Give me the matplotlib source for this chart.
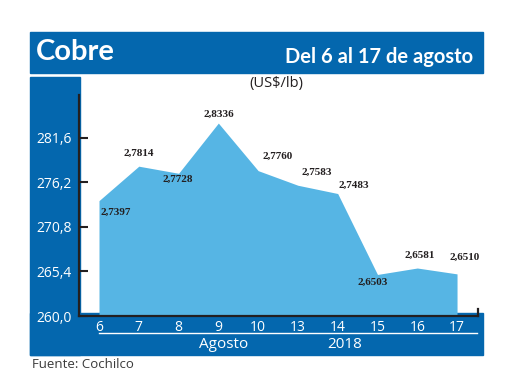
import matplotlib
matplotlib.use("Agg")
import matplotlib.pyplot as plt
from matplotlib.patches import Rectangle
from matplotlib.lines import Line2D

# datos: cobre, US$/lb (eje en centavos)
dias = ["6", "7", "8", "9", "10", "13", "14", "15", "16", "17"]
precios = [2.7397, 2.7814, 2.7728, 2.8336, 2.7760, 2.7583, 2.7483, 2.6503, 2.6581, 2.6510]
yticks = [260.0, 265.4, 270.8, 276.2, 281.6]

azul = "#0467ae"
celeste = "#56b5e4"
negro = "#231f20"

W, H = 520, 390
fig = plt.figure(figsize=(5.2, 3.9), dpi=100)


def fx(px):
    return px / W


def fy(py):
    return 1 - py / H


def rect(x0, y0, x1, y1, color):
    fig.patches.append(Rectangle((fx(x0), fy(y1)), fx(x1) - fx(x0), fy(y0) - fy(y1),
                                 transform=fig.transFigure, color=color, zorder=-5))


# marco azul
rect(30, 32, 483, 73, azul)
rect(30, 77, 80, 355, azul)
rect(30, 313, 483, 355, azul)

fig.text(fx(36), fy(52), "Cobre", color="white", fontsize=21, fontweight="bold",
         family="Lato", va="center", ha="left")
fig.text(fx(473), fy(57), "Del 6 al 17 de agosto", color="white", fontsize=14.5,
         fontweight="bold", family="Lato", va="center", ha="right")
fig.text(fx(276), fy(84), "(US$/lb)", color=negro, fontsize=10.5, family="Open Sans",
         va="center", ha="center")

ax = fig.add_axes([fx(79), fy(316), fx(478) - fx(79), fy(95) - fy(316)])
ax.set_zorder(2)
ax.patch.set_alpha(0)
x = list(range(len(dias)))
vals = [p * 100 for p in precios]
ax.fill_between(x, 260, vals, color=celeste, lw=0, zorder=1)

ax.set_xlim(-0.503, 9.527)
ax.set_ylim(260, 286.76)

ax.set_yticks(yticks)
ax.set_yticklabels([f"{v:.1f}".replace(".", ",") for v in yticks])
ax.tick_params(axis="y", direction="in", length=6.5, width=1.5, color=negro,
               labelcolor="white", labelsize=10, pad=5)
ax.set_xticks(x)
ax.set_xticklabels(dias)
ax.tick_params(axis="x", length=0, labelcolor="white", labelsize=10, pad=3)
for t in ax.get_xticklabels() + ax.get_yticklabels():
    t.set_family("Open Sans")

for s in ["top", "right"]:
    ax.spines[s].set_visible(False)
ax.spines["left"].set_color(negro)
ax.spines["left"].set_linewidth(1.6)
ax.spines["bottom"].set_color(negro)
ax.spines["bottom"].set_linewidth(1.6)
ax.plot([9.527, 9.527], [260, 260.8], color=negro, lw=1.6, clip_on=False)

# etiquetas de valores (desplazamiento en px)
offs = [(1, 12, "left"), (0, -13, "center"), (-1, 6, "center"), (0, -9, "center"),
        (19, -14, "center"), (19, -13, "center"), (16, -8, "center"),
        (-5, 8, "center"), (2, -13, "center"), (8, -17, "center")]
for xi, v, p, (dx, dy, ha) in zip(x, vals, precios, offs):
    ax.annotate(f"{p:.4f}".replace(".", ","), (xi, v), xytext=(dx * 0.72, -dy * 0.72),
                textcoords="offset points", ha=ha, va="center", fontsize=8,
                fontweight="bold", family="Liberation Serif", color=negro, zorder=3)

fig.lines.append(Line2D([fx(99), fx(477)], [fy(333), fy(333)], color="white", lw=1,
                        transform=fig.transFigure))
fig.text(fx(224), fy(344), "Agosto", color="white", fontsize=11, family="Open Sans",
         ha="center", va="center")
fig.text(fx(345), fy(344), "2018", color="white", fontsize=11, family="Open Sans",
         ha="center", va="center")
fig.text(fx(32), fy(364), "Fuente: Cochilco", color="#3a3a3a", fontsize=9.5,
         family="Open Sans", ha="left", va="center")

fig.savefig("out.png", dpi=100, facecolor="white")
